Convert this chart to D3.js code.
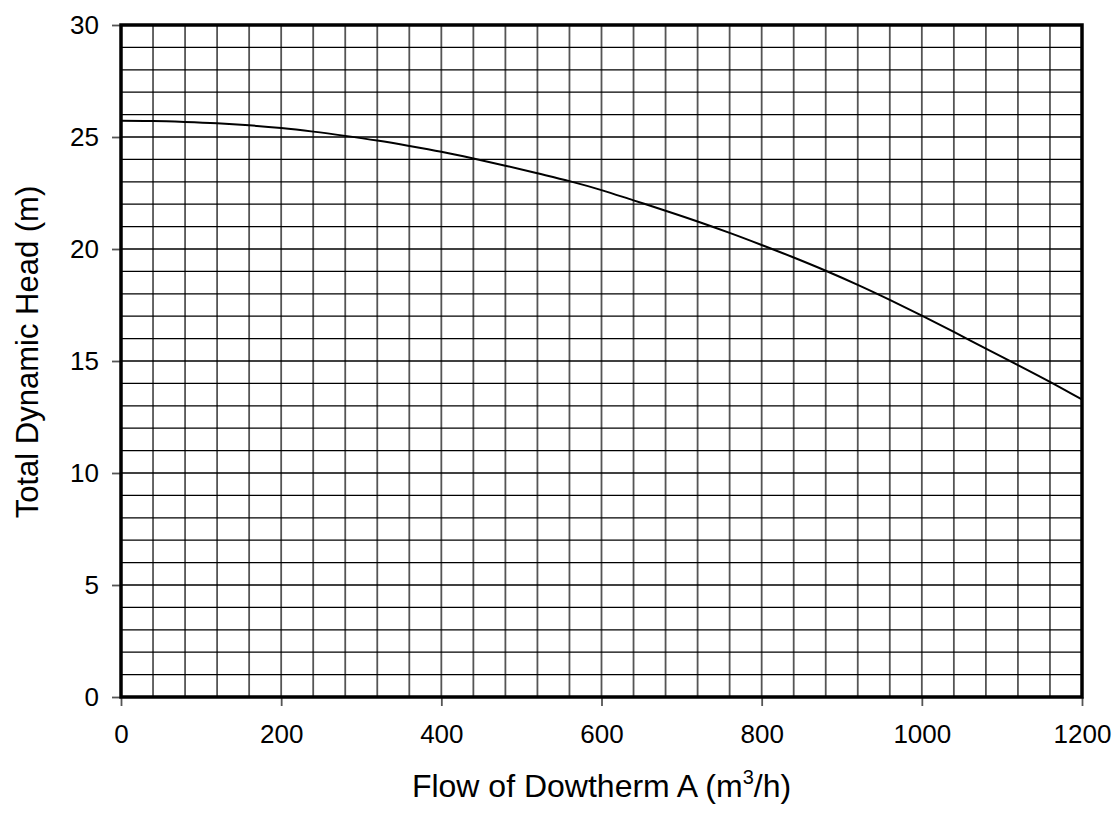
<!DOCTYPE html>
<html lang="en">
<head>
  <meta charset="UTF-8">
  <title>Pump curve</title>
  <script src="https://d3js.org/d3.v7.min.js"></script>
  <style>
  body{ margin:0; background:#fff; }
  text{ font-family: "Liberation Sans", Arial, sans-serif; fill:#000; }
  .grid-x line{ stroke:#555; stroke-width:1.8; }
  .grid-y line{ stroke:#000; stroke-width:1.3; }
  .curve{ fill:none; stroke:#000; stroke-width:2; }
  .frame{ fill:none; stroke:#000; stroke-width:3.5; }
  </style>
</head>
<body>
  <div class="container"></div>
  <script>
  // flow (m3/h) and head (m)
  var flow = [0,40,80,120,160,200,240,280,320,360,400,440,480,520,560,600,
              640,680,720,760,800,840,880,920,960,1000,1040,1080,1120,1160,1200];
  var head = [25.72,25.71,25.67,25.61,25.52,25.40,25.24,25.05,24.84,24.60,24.34,24.04,23.72,23.38,23.03,22.63,
              22.17,21.71,21.23,20.72,20.18,19.62,19.03,18.40,17.73,17.03,16.30,15.55,14.82,14.07,13.28];
  var xTicks = [0,200,400,600,800,1000,1200];
  var yTicks = [0,5,10,15,20,25,30];

  var w = 1117, h = 817,
      margin = {top: 25, right: 35, bottom: 120, left: 121};
  var g_w = w - margin.left - margin.right;
  var g_h = h - margin.top - margin.bottom;

  var xScale = d3.scaleLinear().domain([0, 1200]).range([0, g_w]);
  var yScale = d3.scaleLinear().domain([0, 30]).range([g_h, 0]);

  var svg = d3.select('.container').append('svg')
      .attr('width', w).attr('height', h);
  var g = svg.append('g')
      .attr('transform', 'translate(' + margin.left + ',' + margin.top + ')');

  // grid: vertical every 40, horizontal every 1
  g.append('g').attr('class', 'grid-x')
    .selectAll('line').data(d3.range(40, 1200, 40)).enter().append('line')
    .attr('x1', d => xScale(d)).attr('x2', d => xScale(d))
    .attr('y1', 0).attr('y2', g_h);
  g.append('g').attr('class', 'grid-y')
    .selectAll('line').data(d3.range(1, 30, 1)).enter().append('line')
    .attr('x1', 0).attr('x2', g_w)
    .attr('y1', d => yScale(d)).attr('y2', d => yScale(d));

  var xAxis = d3.axisBottom(xScale).tickValues(xTicks).tickFormat(d3.format('d'))
      .tickSize(9).tickPadding(19);
  var yAxis = d3.axisLeft(yScale).tickValues(yTicks).tickFormat(d3.format('d'))
      .tickSize(9).tickPadding(13);
  var gx = g.append('g').attr('transform', 'translate(0,' + g_h + ')').call(xAxis);
  var gy = g.append('g').call(yAxis);
  [gx, gy].forEach(function(a){
    a.attr('font-size', null).attr('font-family', null);
    a.select('.domain').remove();
    a.selectAll('.tick line').attr('stroke', '#555').attr('stroke-width', 1.8);
    a.selectAll('.tick text').style('font-size', '26px');
  });

  var line = d3.line()
      .x(function(d, i){ return xScale(flow[i]); })
      .y(function(d){ return yScale(d); })
      .curve(d3.curveMonotoneX);
  g.append('path').attr('class', 'curve').attr('d', line(head));

  g.append('rect').attr('class', 'frame')
    .attr('x', 0).attr('y', 0).attr('width', g_w).attr('height', g_h);

  // axis titles
  var xt = svg.append('text')
      .attr('x', margin.left + g_w / 2).attr('y', 797)
      .attr('text-anchor', 'middle').style('font-size', '32px');
  xt.append('tspan').text('Flow of Dowtherm A (m');
  xt.append('tspan').text('3').attr('dy', -13).style('font-size', '20px');
  xt.append('tspan').text('/h)').attr('dy', 13);

  svg.append('text')
      .attr('transform', 'translate(38,' + 352 + ') rotate(-90)')
      .attr('text-anchor', 'middle').style('font-size', '31px')
      .text('Total Dynamic Head (m)');
  </script>
</body>
</html>
